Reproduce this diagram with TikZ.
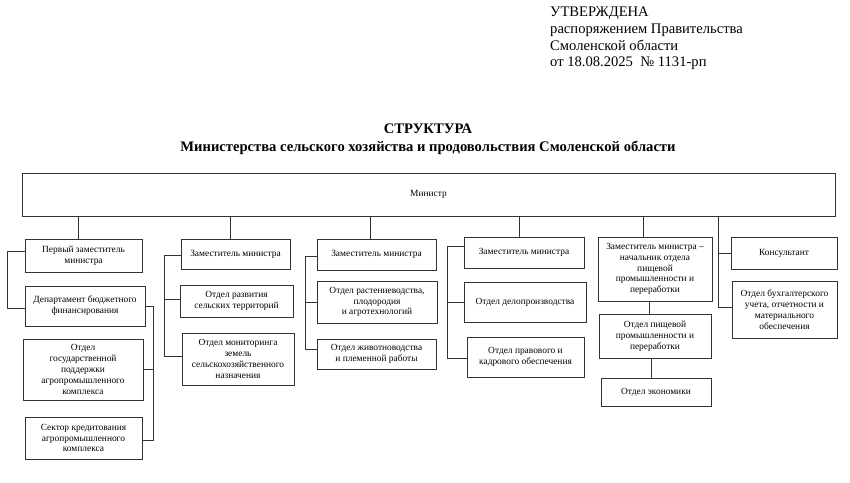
\documentclass[tikz,border=0pt]{standalone}
\usepackage{fontspec}
\setmainfont{Liberation Serif}
\begin{document}
\begin{tikzpicture}[x=1pt,y=-1pt,
  box/.style={draw=black!80, line width=0.8pt, inner sep=1pt, align=center,
    font=\fontsize{9.4}{10.8}\selectfont, anchor=center},
  conn/.style={draw=black!80, line width=0.8pt}]
\useasboundingbox (0,0) rectangle (850,482);
\fill[white] (0,0) rectangle (850,482);
% header
\node[anchor=north west, align=left, inner sep=0pt, font=\fontsize{14.6}{16.7}\selectfont] (hdr) at (550,7)
  {УТВЕРЖДЕНА\\распоряжением Правительства\\Смоленской области\\от 18.08.2025~~№ 1131-рп};
\node[align=center, inner sep=0pt, font=\bfseries\fontsize{14.6}{18}\selectfont] (title) at (428,139)
  {СТРУКТУРА\\Министерства сельского хозяйства и продовольствия Смоленской области};
% boxes
\node[box, minimum width=813, minimum height=43] (min) at (428.5,194.5) {Министр};
\node[box, minimum width=117, minimum height=33] (fd) at (83.5,255.5) {Первый заместитель\\министра};
\node[box, minimum width=120, minimum height=40] (dbf) at (85,306) {Департамент бюджетного\\финансирования};
\node[box, minimum width=120, minimum height=61] (gp) at (83,369.5) {Отдел\\государственной\\поддержки\\агропромышленного\\комплекса};
\node[box, minimum width=117, minimum height=42] (sk) at (83.5,438) {Сектор кредитования\\агропромышленного\\комплекса};
\node[box, minimum width=109, minimum height=30] (d2) at (235.5,254) {Заместитель министра};
\node[box, minimum width=113, minimum height=32] (rst) at (236.5,301) {Отдел развития\\сельских территорий};
\node[box, minimum width=112, minimum height=52] (mon) at (238,359) {Отдел мониторинга\\земель\\сельскохозяйственного\\назначения};
\node[box, minimum width=119, minimum height=31] (d3) at (376.5,254.5) {Заместитель министра};
\node[box, minimum width=120, minimum height=42] (rast) at (377,302) {Отдел растениеводства,\\плодородия\\и агротехнологий};
\node[box, minimum width=119, minimum height=30] (zhiv) at (376.5,354) {Отдел животноводства\\и племенной работы};
\node[box, minimum width=120, minimum height=31] (d4) at (524,252.5) {Заместитель министра};
\node[box, minimum width=122, minimum height=40] (delo) at (525,302) {Отдел делопроизводства};
\node[box, minimum width=117, minimum height=40] (prav) at (525.5,357) {Отдел правового и\\кадрового обеспечения};
\node[box, minimum width=114, minimum height=64] (d5) at (655,269) {Заместитель министра –\\начальник отдела\\пищевой\\промышленности и\\переработки};
\node[box, minimum width=112, minimum height=44] (pish) at (655,336) {Отдел пищевой\\промышленности и\\переработки};
\node[box, minimum width=110, minimum height=28] (ekon) at (656,392) {Отдел экономики};
\node[box, minimum width=106, minimum height=32] (kons) at (784,253) {Консультант};
\node[box, minimum width=105, minimum height=57] (buh) at (784.5,309.5) {Отдел бухгалтерского\\учета, отчетности и\\материального\\обеспечения};
% connectors from minister
\coordinate (m1) at ([xshift=-5.5]fd.north);
\draw[conn] (m1) -- (m1 |- min.south);
\coordinate (m2) at ([xshift=-5.5]d2.north);
\draw[conn] (m2) -- (m2 |- min.south);
\coordinate (m3) at ([xshift=-6.5]d3.north);
\draw[conn] (m3) -- (m3 |- min.south);
\coordinate (m4) at ([xshift=-5]d4.north);
\draw[conn] (m4) -- (m4 |- min.south);
\coordinate (m5) at ([xshift=-12]d5.north);
\draw[conn] (m5) -- (m5 |- min.south);
\coordinate (m6) at ([xshift=-12]kons.west |- min.south);
\draw[conn] (m6) |- ([yshift=2.5]buh.west);
\draw[conn] (m6 |- kons.west) -- (kons.west);
% column 1
\draw[conn] ([yshift=4.5]fd.west) -- ++(-17,0) |- ([yshift=-2]dbf.west);
\draw[conn] (dbf.east) -- ++(8,0) coordinate (v1) |- ([yshift=-2]sk.east);
\draw[conn] (gp.east) -- (gp.east -| v1);
% column 2
\draw[conn] ([yshift=-1]d2.west) -- ++(-16,0) coordinate (v2) |- ([yshift=3]mon.west);
\draw[conn] ([yshift=2]rst.west) -- ([yshift=2]rst.west -| v2);
% column 3
\draw[conn] ([yshift=-1.5]d3.west) -- ++(-11,0) coordinate (v3) |- ([yshift=5]zhiv.west);
\draw[conn] (rast.west) -- (rast.west -| v3);
% column 4
\draw[conn] ([yshift=6.5]d4.west) -- ++(-16,0) coordinate (v4) |- ([yshift=-1]prav.west);
\draw[conn] (delo.west) -- (delo.west -| v4);
% column 5
\draw[conn] ([xshift=-6]d5.south) -- ([xshift=-6]pish.north);
\draw[conn] ([xshift=-4]pish.south) -- ([xshift=-4]pish.south |- ekon.north);
\end{tikzpicture}
\end{document}
